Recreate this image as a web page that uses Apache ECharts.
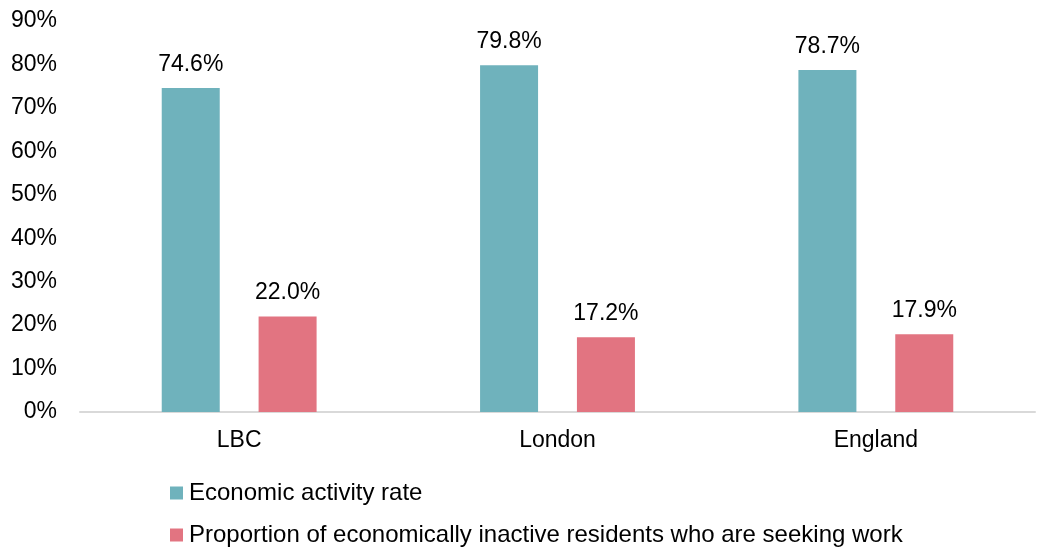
<!DOCTYPE html>
<html>
<head>
<meta charset="utf-8">
<script src="https://cdn.jsdelivr.net/npm/echarts@6/dist/echarts.min.js"></script>
<style>
  html, body { margin: 0; padding: 0; background: #fff; }
  #chart { width: 1037px; height: 548px; }
</style>
</head>
<body>
<div id="chart"></div>
<script>
const categories = ['LBC', 'London', 'England'];
const activityRate = [74.6, 79.8, 78.7];
const seekingWork = [22.0, 17.2, 17.9];
const seriesNames = [
  'Economic activity rate',
  'Proportion of economically inactive residents who are seeking work'
];

const font = 'Liberation Sans, Arial, sans-serif';
const fontSize = 23;
const chart = echarts.init(document.getElementById('chart'));

const valueLabel = {
  show: true,
  position: 'top',
  distance: 12,
  color: '#000',
  fontFamily: font,
  fontSize: fontSize,
  formatter: p => p.value.toFixed(1) + '%'
};

// one legend block per series, stacked vertically under the plot
const legendBlock = (name, top) => ({
  orient: 'vertical',
  left: 170,
  top: top,
  padding: 0,
  itemWidth: 13,
  itemHeight: 13,
  icon: 'rect',
  textStyle: { color: '#000', fontFamily: font, fontSize: 24, padding: [0, 0, 0, 1] },
  data: [name]
});

chart.setOption({
  animation: false,
  grid: { left: 80, right: 2, top: 21, bottom: 136 },
  legend: [legendBlock(seriesNames[0], 481), legendBlock(seriesNames[1], 523)],
  xAxis: {
    type: 'category',
    data: categories,
    axisLine: { lineStyle: { color: '#d9d9d9', width: 2 } },
    axisTick: { show: false },
    axisLabel: { color: '#000', fontFamily: font, fontSize: fontSize, margin: 17 }
  },
  yAxis: {
    type: 'value',
    min: 0,
    max: 90,
    interval: 10,
    splitLine: { show: false },
    axisLine: { show: false },
    axisTick: { show: false },
    axisLabel: {
      color: '#000', fontFamily: font, fontSize: fontSize, margin: 23,
      formatter: v => v + '%'
    }
  },
  series: [
    {
      name: seriesNames[0],
      type: 'bar',
      data: activityRate,
      barWidth: 58,
      barGap: '67%',
      itemStyle: { color: '#6FB2BC' },
      label: valueLabel
    },
    {
      name: seriesNames[1],
      type: 'bar',
      data: seekingWork,
      barWidth: 58,
      itemStyle: { color: '#E27481' },
      label: valueLabel
    }
  ]
});
</script>
</body>
</html>
